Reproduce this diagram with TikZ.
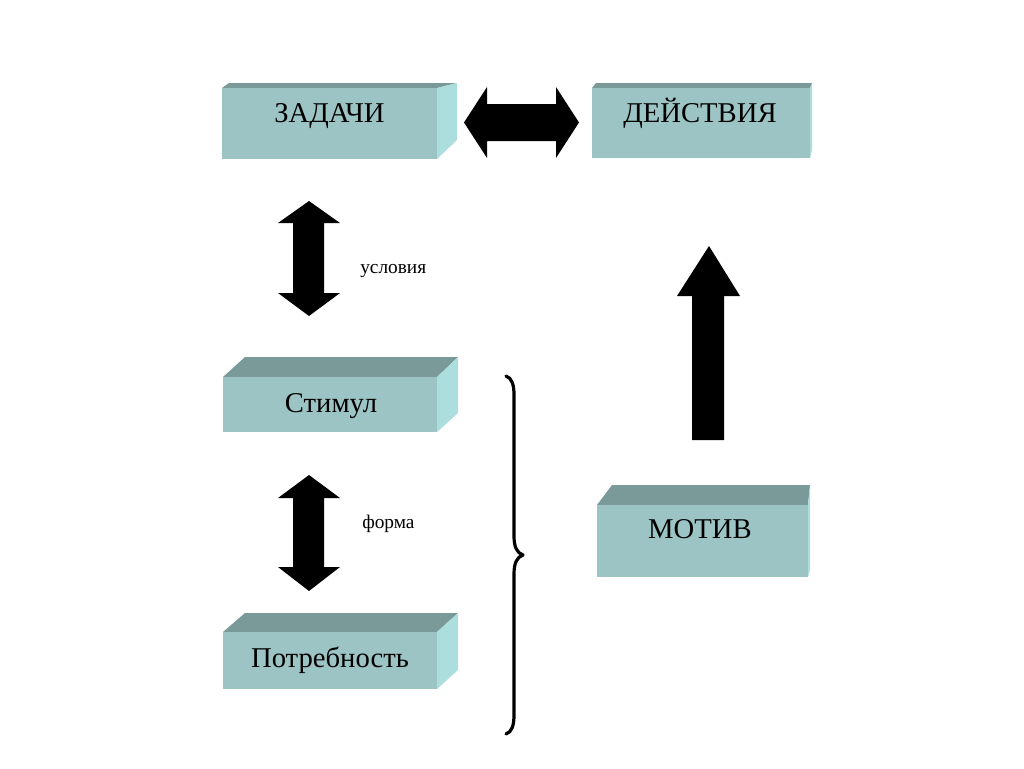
\documentclass[tikz,border=0pt]{standalone}
\usepackage{fontspec}
\setmainfont{Liberation Serif}
\definecolor{frontc}{RGB}{157,196,196}
\definecolor{topc}{RGB}{122,154,154}
\definecolor{sidec}{RGB}{172,222,222}
\begin{document}
\begin{tikzpicture}[x=0.75pt,y=-0.75pt,
  frontface/.style={fill=frontc},
  topface/.style={fill=topc},
  sideface/.style={fill=sidec},
  boxtext/.style={font=\fontsize{21.5}{22}\selectfont, anchor=base, inner sep=0pt},
  smalltext/.style={font=\fontsize{14.5}{15}\selectfont, anchor=base west, inner sep=0pt},
  blockarrow/.style={fill=black},
  bracestyle/.style={draw=black, line width=2.4pt, line cap=round, line join=round}]
\useasboundingbox (0,0) rectangle (1024,768);
\fill[white] (0,0) rectangle (1024,768);

% ЗАДАЧИ
\fill[topface] (222,88) -- (229,83) -- (457,83) -- (437,88) -- cycle;
\fill[sideface] (437,88) -- (457,83) -- (457,140) -- (437,159) -- cycle;
\fill[frontface] (222,88) rectangle (437,159);
\node[boxtext] (zad) at (329.5,122) {ЗАДАЧИ};

% ДЕЙСТВИЯ
\fill[topface] (592,88) -- (596,83) -- (812,83) -- (810,88) -- cycle;
\fill[sideface] (810,88) -- (812,83) -- (812,150) -- (810,158) -- cycle;
\fill[frontface] (592,88) rectangle (810,158);
\node[boxtext] (dei) at (700,122) {ДЕЙСТВИЯ};

% Стимул
\fill[topface] (223,377) -- (245,357) -- (458,357) -- (437,377) -- cycle;
\fill[sideface] (437,377) -- (458,357) -- (458,413) -- (437,432) -- cycle;
\fill[frontface] (223,377) rectangle (437,432);
\node[boxtext] (stim) at (331,412) {Стимул};

% Потребность
\fill[topface] (223,632) -- (245,613) -- (458,613) -- (437,632) -- cycle;
\fill[sideface] (437,632) -- (458,613) -- (458,670) -- (437,689) -- cycle;
\fill[frontface] (223,632) rectangle (437,689);
\node[boxtext] (potr) at (330,667) {Потребность};

% МОТИВ
\fill[topface] (597,505) -- (612,485) -- (810,485) -- (808,505) -- cycle;
\fill[sideface] (808,505) -- (810,485) -- (810,570) -- (808,577) -- cycle;
\fill[frontface] (597,505) rectangle (808,577);
\node[boxtext] (motiv) at (700,538) {МОТИВ};

% horizontal double arrow
\fill[blockarrow] (464,122.5) -- (487,87) -- (487,104) -- (556,104) -- (556,87)
  -- (579,122.5) -- (556,158) -- (556,141) -- (487,141) -- (487,158) -- cycle;

% vertical double arrow (условия)
\fill[blockarrow] (309,201) -- (340,223) -- (324,223) -- (324,293) -- (340,293)
  -- (309,316) -- (278,293) -- (293,293) -- (293,223) -- (278,223) -- cycle;
\node[smalltext] (usl) at (360,273) {условия};

% vertical double arrow (форма)
\fill[blockarrow] (309,475) -- (340,498) -- (324,498) -- (324,567) -- (340,567)
  -- (309,591) -- (278,567) -- (293,567) -- (293,498) -- (278,498) -- cycle;
\node[smalltext] (forma) at (362,528) {форма};

% up arrow
\fill[blockarrow] (709,246) -- (740,296) -- (724,296) -- (724,440) -- (692,440)
  -- (692,296) -- (677,296) -- cycle;

% brace
\draw[bracestyle] (506,376) .. controls (512,378) and (514,385) .. (514,395)
  -- (514,536) .. controls (514,547) and (517,553) .. (523,555)
  .. controls (517,557) and (514,563) .. (514,574)
  -- (514,715) .. controls (514,725) and (512,732) .. (506,734);
\end{tikzpicture}
\end{document}
